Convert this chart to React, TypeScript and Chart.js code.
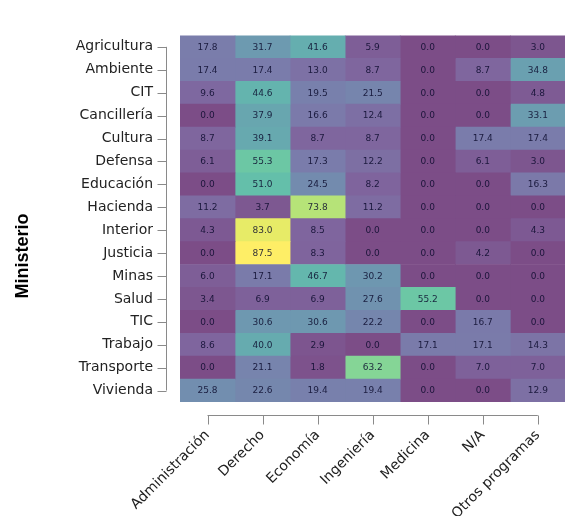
import React, { useEffect, useRef } from "react";
import { Chart, registerables } from "chart.js";

Chart.register(...registerables);

const ministerios = [
  "Agricultura", "Ambiente", "CIT", "Cancillería", "Cultura", "Defensa", "Educación", "Hacienda",
  "Interior", "Justicia", "Minas", "Salud", "TIC", "Trabajo", "Transporte", "Vivienda",
];
const programas = ["Administración", "Derecho", "Economía", "Ingeniería", "Medicina", "N/A", "Otros programas"];

const administracion = [17.8, 17.4, 9.6, 0.0, 8.7, 6.1, 0.0, 11.2, 4.3, 0.0, 6.0, 3.4, 0.0, 8.6, 0.0, 25.8];
const derecho = [31.7, 17.4, 44.6, 37.9, 39.1, 55.3, 51.0, 3.7, 83.0, 87.5, 17.1, 6.9, 30.6, 40.0, 21.1, 22.6];
const economia = [41.6, 13.0, 19.5, 16.6, 8.7, 17.3, 24.5, 73.8, 8.5, 8.3, 46.7, 6.9, 30.6, 2.9, 1.8, 19.4];
const ingenieria = [5.9, 8.7, 21.5, 12.4, 8.7, 12.2, 8.2, 11.2, 0.0, 0.0, 30.2, 27.6, 22.2, 0.0, 63.2, 19.4];
const medicina = [0.0, 0.0, 0.0, 0.0, 0.0, 0.0, 0.0, 0.0, 0.0, 0.0, 0.0, 55.2, 0.0, 17.1, 0.0, 0.0];
const noAplica = [0.0, 8.7, 0.0, 0.0, 17.4, 6.1, 0.0, 0.0, 0.0, 4.2, 0.0, 0.0, 16.7, 17.1, 7.0, 0.0];
const otros = [3.0, 34.8, 4.8, 33.1, 17.4, 3.0, 16.3, 0.0, 4.3, 0.0, 0.0, 0.0, 0.0, 14.3, 7.0, 12.9];

const series = [administracion, derecho, economia, ingenieria, medicina, noAplica, otros];

// viridis colour map stops (style)
const VIRIDIS = [
  [68, 1, 84], [72, 36, 117], [65, 68, 135], [53, 95, 141], [42, 120, 142], [33, 145, 140],
  [34, 168, 132], [68, 191, 112], [122, 209, 81], [189, 223, 38], [253, 231, 37],
];
const ALPHA = 0.7;

function colorFor(v: number, max: number): string {
  const t = Math.max(0, Math.min(1, v / max)) * (VIRIDIS.length - 1);
  const i = Math.min(VIRIDIS.length - 2, Math.floor(t));
  const f = t - i;
  const c = VIRIDIS[i].map((a, k) => a + (VIRIDIS[i + 1][k] - a) * f);
  const m = c.map((a) => Math.round(a * ALPHA + 255 * (1 - ALPHA)));
  return `rgb(${m[0]},${m[1]},${m[2]})`;
}

const FONT = "'DejaVu Sans', Verdana, sans-serif";

const cellLabels = {
  id: "cellLabels",
  afterDatasetsDraw(chart: any) {
    const ctx = chart.ctx;
    ctx.save();
    ctx.font = `9px ${FONT}`;
    ctx.fillStyle = "rgba(10,10,45,0.85)";
    ctx.textAlign = "center";
    ctx.textBaseline = "middle";
    chart.data.datasets.forEach((ds: any, di: number) => {
      const meta = chart.getDatasetMeta(di);
      meta.data.forEach((el: any, ri: number) => {
        const v = series[di][ri];
        ctx.fillText(v.toFixed(1), (el.x + el.base) / 2, el.y + 0.5);
      });
    });
    ctx.restore();
  },
};

const customAxes = {
  id: "customAxes",
  afterDraw(chart: any) {
    const ctx = chart.ctx;
    const area = chart.chartArea;
    const xs = chart.scales.x;
    const ys = chart.scales.y;
    ctx.save();
    ctx.strokeStyle = "#8a8a8a";
    ctx.lineWidth = 1;
    // y axis
    const lx = Math.round(area.left - 14) + 0.5;
    const y0 = ys.getPixelForValue(0);
    const y1 = ys.getPixelForValue(ministerios.length - 1);
    ctx.beginPath();
    ctx.moveTo(lx, y0);
    ctx.lineTo(lx, y1);
    ministerios.forEach((_, i) => {
      const py = Math.round(ys.getPixelForValue(i)) + 0.5;
      ctx.moveTo(lx - 9, py);
      ctx.lineTo(lx, py);
    });
    ctx.stroke();
    // x axis
    const ly = Math.round(area.bottom + 13) + 0.5;
    const x0 = xs.getPixelForValue(0.5);
    const x1 = xs.getPixelForValue(programas.length - 0.5);
    ctx.beginPath();
    ctx.moveTo(x0, ly);
    ctx.lineTo(x1, ly);
    programas.forEach((_, i) => {
      const px = Math.round(xs.getPixelForValue(i + 0.5)) + 0.5;
      ctx.moveTo(px, ly);
      ctx.lineTo(px, ly + 9);
    });
    ctx.stroke();
    // y axis title
    ctx.fillStyle = "#000";
    ctx.font = `bold 18px 'Liberation Sans', Arial, sans-serif`;
    ctx.textAlign = "center";
    ctx.textBaseline = "middle";
    ctx.translate(23, 256);
    ctx.rotate(-Math.PI / 2);
    ctx.fillText("Ministerio", 0, 0);
    ctx.restore();
  },
};

export default function App() {
  const ref = useRef<HTMLCanvasElement | null>(null);

  useEffect(() => {
    if (!ref.current) return;
    const maxV = Math.max(...series.flat());
    const chart = new Chart(ref.current, {
      type: "bar",
      data: {
        labels: ministerios,
        datasets: programas.map((p, j) => ({
          label: p,
          data: ministerios.map(() => [j, j + 1]) as any,
          backgroundColor: series[j].map((v) => colorFor(v, maxV)),
          borderWidth: 0,
          barPercentage: 1,
          categoryPercentage: 1,
          grouped: false,
        })),
      },
      options: {
        indexAxis: "y",
        animation: false,
        responsive: false,
        devicePixelRatio: 1,
        layout: { padding: { top: 13, right: 4, left: 0, bottom: 0 } },
        plugins: { legend: { display: false }, tooltip: { enabled: false } },
        scales: {
          x: {
            type: "linear",
            min: 0,
            max: programas.length,
            grid: { display: false, drawTicks: false },
            border: { display: false },
            afterBuildTicks: (s: any) => {
              s.ticks = programas.map((_, i) => ({ value: i + 0.5 }));
            },
            afterFit: (s: any) => {
              s.height = 114;
            },
            ticks: {
              autoSkip: false,
              minRotation: 45,
              maxRotation: 45,
              padding: 25,
              color: "#222",
              font: { family: FONT, size: 14 },
              callback: (v: any) => programas[Math.round(Number(v) - 0.5)],
            },
          },
          y: {
            type: "category",
            grid: { display: false, drawTicks: false },
            border: { display: false },
            afterFit: (s: any) => {
              s.width = 180;
            },
            ticks: {
              autoSkip: false,
              padding: 27,
              color: "#222",
              font: { family: FONT, size: 14 },
            },
          },
        },
      },
      plugins: [cellLabels, customAxes],
    });
    return () => chart.destroy();
  }, []);

  return (
    <div style={{ position: "fixed", left: 0, top: 0, width: 565, height: 516, overflow: "hidden", background: "#fff" }}>
      <canvas ref={ref} width={575} height={516} style={{ width: 575, height: 516, display: "block" }} />
    </div>
  );
}
